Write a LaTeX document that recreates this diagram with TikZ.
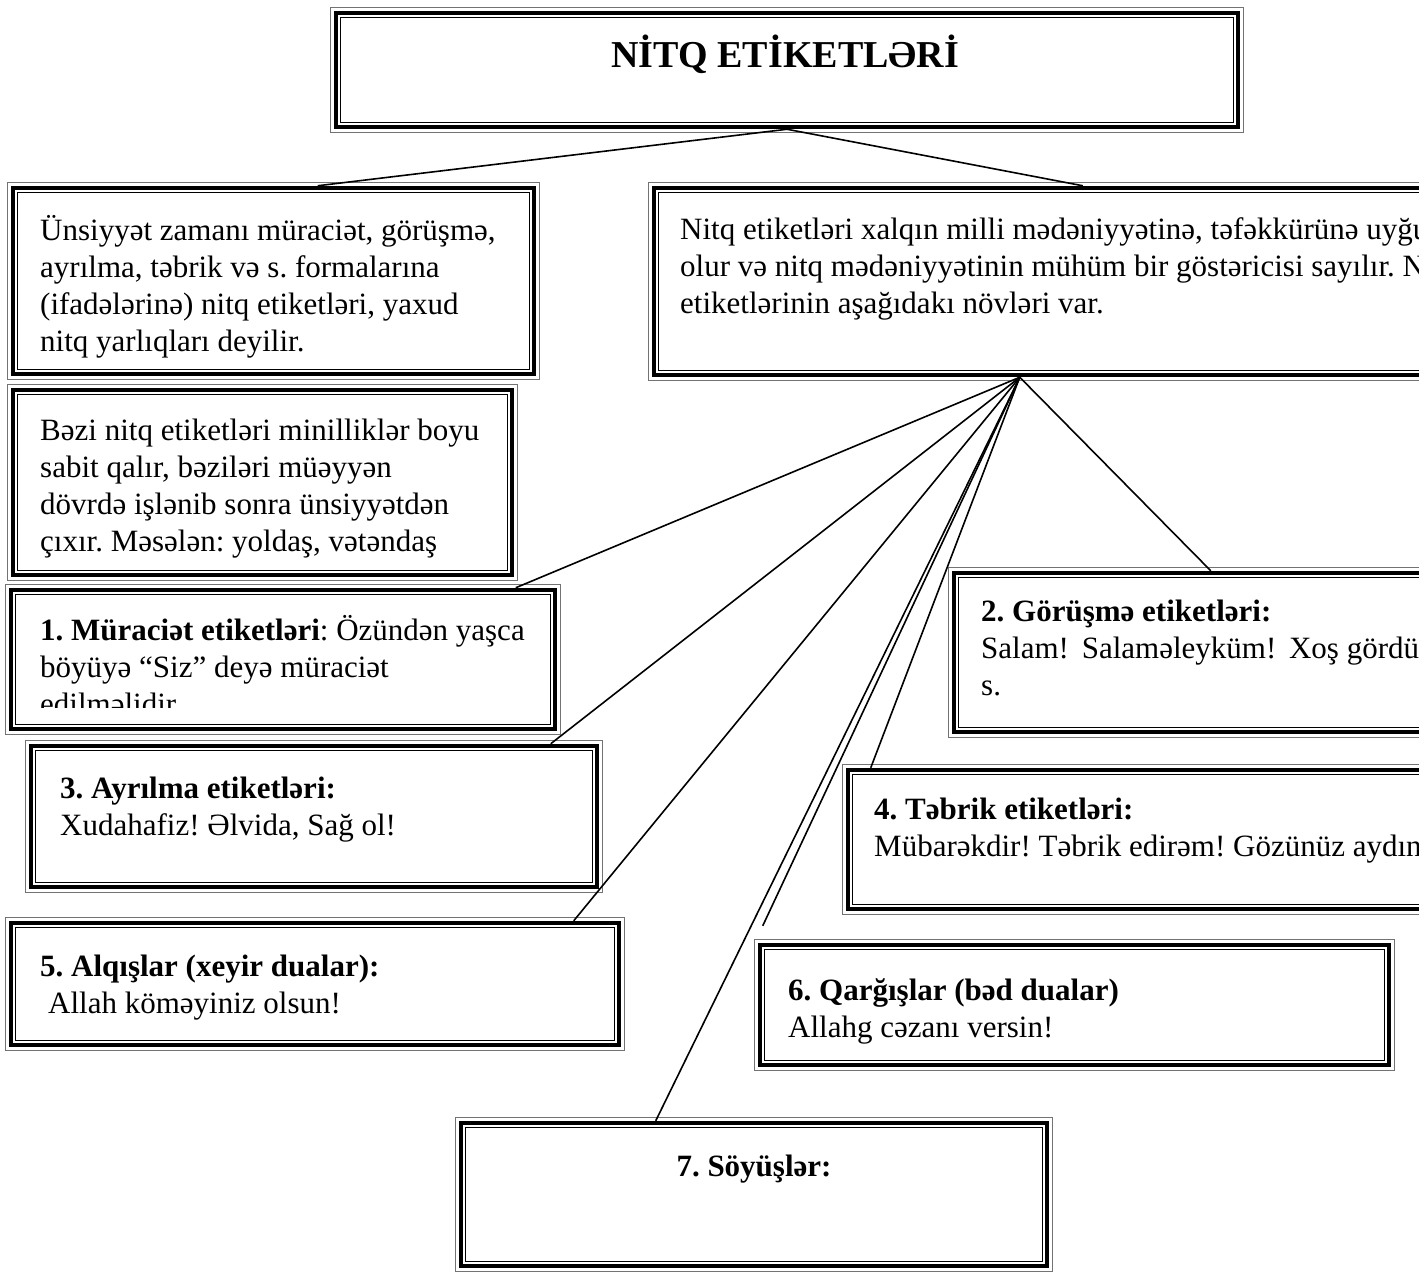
\documentclass[tikz,border=0pt]{standalone}
\usepackage{fontspec}
\setmainfont{Liberation Serif}
\usetikzlibrary{calc,fit}
\frenchspacing
\tikzset{
  framebox/.style={draw=black, line width=4.5pt, inner sep=0pt, fill=white},
  innerline/.style={draw=black, line width=1.4pt},
  outerline/.style={draw=black!55, line width=0.9pt},
  conn/.style={draw=black, line width=1.6pt},
  txt/.style={inner sep=0pt, align=left, font=\fontsize{31}{37}\selectfont},
  btxt/.style={inner sep=0pt, align=center, font=\bfseries\fontsize{31}{37}\selectfont},
}
\newcommand{\framedbox}[5]{%
  \node[framebox, fit={(#2,#3) (#4,#5)}] (#1) {};
  \draw[innerline] ([shift={(7,7)}]#1.north west) rectangle ([shift={(-7,-7)}]#1.south east);
  \draw[outerline] ([shift={(-3,-3)}]#1.north west) rectangle ([shift={(3,3)}]#1.south east);
}
\begin{document}
\begin{tikzpicture}[x=1pt,y=-1pt]
\path[use as bounding box] (0,0) rectangle (1419,1272);
\clip (0,0) rectangle (1419,1272);
\fill[white] (0,0) rectangle (1419,1272);

\framedbox{title}{336}{13}{1238}{127}
\framedbox{A}{13}{188}{534}{374}
\framedbox{B}{13}{390}{512}{575}
\framedbox{C}{654}{188}{1450}{375}
\framedbox{b1}{11}{590}{555}{729}
\framedbox{b2}{954}{573}{1450}{732}
\framedbox{b3}{31}{746}{597}{887}
\framedbox{b4}{848}{770}{1450}{909}
\framedbox{b5}{11}{923}{619}{1045}
\framedbox{b6}{760}{945}{1389}{1065}
\framedbox{b7}{461}{1123}{1047}{1266}

\coordinate (hub) at ([xshift=368]C.south west);
\coordinate (q6end) at ([shift={(5,-17)}]b6.north west);

\draw[conn] (title.south) -- ([xshift=307]A.north west);
\draw[conn] (title.south) -- ([xshift=431]C.north west);
\draw[conn] (hub) -- ([xshift=507]b1.north west);
\draw[conn] (hub) -- ([xshift=522]b3.north west);
\draw[conn] (hub) -- ([xshift=565]b5.north west);
\draw[conn] (hub) -- ([xshift=197]b7.north west);
\draw[conn] (hub) -- (q6end);
\draw[conn] (hub) -- ([xshift=25]b4.north west);
\draw[conn] (hub) -- ([xshift=259]b2.north west);

% texts (anchor base = baseline of the last line)
\node[anchor=base, inner sep=0pt, font=\bfseries\fontsize{38}{44}\selectfont] (tt) at (785,67) {NİTQ ETİKETLƏRİ};

\node[txt, anchor=base west] (tA) at (40,351) {Ünsiyyət zamanı müraciət, görüşmə,\\ayrılma, təbrik və s. formalarına\\(ifadələrinə) nitq etiketləri, yaxud\\nitq yarlıqları deyilir.};

\node[txt, anchor=base west] (tB) at (40,551) {Bəzi nitq etiketləri minilliklər boyu\\sabit qalır, bəziləri müəyyən\\dövrdə işlənib sonra ünsiyyətdən\\çıxır. Məsələn: yoldaş, vətəndaş};

\node[txt, anchor=base west] (tC) at (680,313) {Nitq etiketləri xalqın milli mədəniyyətinə, təfəkkürünə uyğun\\olur və nitq mədəniyyətinin mühüm bir göstəricisi sayılır. Nitq\\etiketlərinin aşağıdakı növləri var.};

\begin{scope}
\clip (11,590) rectangle (555,707);
\node[txt, anchor=base west] (t1) at (40,714) {\textbf{1. Müraciət etiketləri}: Özündən yaşca\\böyüyə “Siz” deyə müraciət\\edilməlidir.};
\end{scope}

\node[txt, anchor=base west] (t2) at (981,695) {\textbf{2. Görüşmə etiketləri:}\\Salam!\hspace{5pt} Salaməleyküm!\hspace{5pt} Xoş gördük! və\\s.};

\node[txt, anchor=base west] (t3) at (60,835) {\textbf{3. Ayrılma etiketləri:}\\Xudahafiz! Əlvida, Sağ ol!};

\node[txt, anchor=base west] (t4) at (874,856) {\textbf{4. Təbrik etiketləri:}\\Mübarəkdir! Təbrik edirəm! Gözünüz aydın!};

\node[txt, anchor=base west] (t5) at (40,1013) {\textbf{5. Alqışlar (xeyir dualar):}\\\hspace*{8pt}Allah köməyiniz olsun!};

\node[txt, anchor=base west] (t6) at (788,1037) {\textbf{6. Qarğışlar (bəd dualar)}\\Allahg cəzanı versin!};

\node[btxt, anchor=base] (t7) at (754,1176) {7. Söyüşlər:};
\end{tikzpicture}
\end{document}
